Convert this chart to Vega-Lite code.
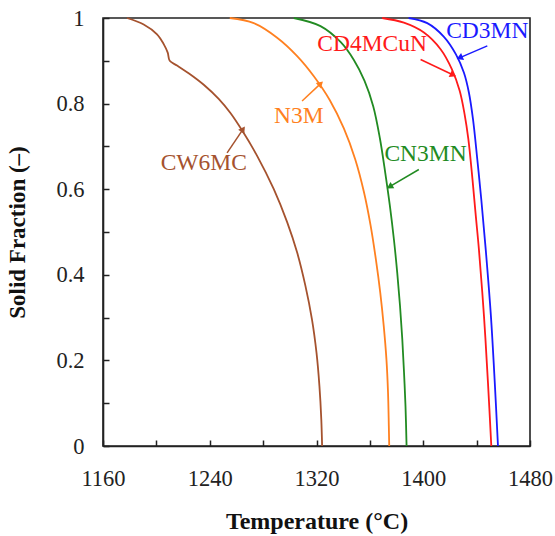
{
  "$schema": "https://vega.github.io/schema/vega-lite/v6.json",
  "width": 427,
  "height": 428,
  "autosize": {"type": "none"},
  "padding": {"left": 103, "top": 18, "right": 25, "bottom": 90},
  "background": "white",
  "config": {
    "view": {"stroke": "#222", "strokeWidth": 1.6},
    "font": "Liberation Serif, Times New Roman, DejaVu Serif, serif"
  },
  "datasets": {
    "curves": [
      {"s": "CW6MC", "T": 1178, "f": 1},
      {"s": "CW6MC", "T": 1190.5, "f": 0.985},
      {"s": "CW6MC", "T": 1200.5, "f": 0.962},
      {"s": "CW6MC", "T": 1205.5, "f": 0.939},
      {"s": "CW6MC", "T": 1208.5, "f": 0.919},
      {"s": "CW6MC", "T": 1210, "f": 0.9},
      {"s": "CW6MC", "T": 1215.5, "f": 0.889},
      {"s": "CW6MC", "T": 1225.5, "f": 0.868},
      {"s": "CW6MC", "T": 1235.5, "f": 0.844},
      {"s": "CW6MC", "T": 1246.7, "f": 0.811},
      {"s": "CW6MC", "T": 1255.5, "f": 0.778},
      {"s": "CW6MC", "T": 1264.3, "f": 0.737},
      {"s": "CW6MC", "T": 1275.5, "f": 0.678},
      {"s": "CW6MC", "T": 1288, "f": 0.6},
      {"s": "CW6MC", "T": 1298, "f": 0.523},
      {"s": "CW6MC", "T": 1305.5, "f": 0.452},
      {"s": "CW6MC", "T": 1311.7, "f": 0.374},
      {"s": "CW6MC", "T": 1316.6, "f": 0.296},
      {"s": "CW6MC", "T": 1320, "f": 0.218},
      {"s": "CW6MC", "T": 1322.2, "f": 0.14},
      {"s": "CW6MC", "T": 1323.6, "f": 0.062},
      {"s": "CW6MC", "T": 1324.2, "f": 0},
      {"s": "N3M", "T": 1255, "f": 1},
      {"s": "N3M", "T": 1273, "f": 0.988},
      {"s": "N3M", "T": 1290.5, "f": 0.954},
      {"s": "N3M", "T": 1305.5, "f": 0.911},
      {"s": "N3M", "T": 1318, "f": 0.864},
      {"s": "N3M", "T": 1330, "f": 0.808},
      {"s": "N3M", "T": 1340.5, "f": 0.742},
      {"s": "N3M", "T": 1349, "f": 0.67},
      {"s": "N3M", "T": 1355.5, "f": 0.594},
      {"s": "N3M", "T": 1360.5, "f": 0.516},
      {"s": "N3M", "T": 1364.5, "f": 0.436},
      {"s": "N3M", "T": 1367.8, "f": 0.358},
      {"s": "N3M", "T": 1370.4, "f": 0.28},
      {"s": "N3M", "T": 1372.4, "f": 0.203},
      {"s": "N3M", "T": 1373.6, "f": 0.125},
      {"s": "N3M", "T": 1374.2, "f": 0.047},
      {"s": "N3M", "T": 1374.5, "f": 0},
      {"s": "CN3MN", "T": 1303, "f": 1},
      {"s": "CN3MN", "T": 1323, "f": 0.981},
      {"s": "CN3MN", "T": 1338, "f": 0.944},
      {"s": "CN3MN", "T": 1348, "f": 0.902},
      {"s": "CN3MN", "T": 1356, "f": 0.853},
      {"s": "CN3MN", "T": 1362.5, "f": 0.794},
      {"s": "CN3MN", "T": 1367.5, "f": 0.719},
      {"s": "CN3MN", "T": 1371.5, "f": 0.639},
      {"s": "CN3MN", "T": 1375, "f": 0.561},
      {"s": "CN3MN", "T": 1378, "f": 0.483},
      {"s": "CN3MN", "T": 1380.5, "f": 0.405},
      {"s": "CN3MN", "T": 1382.6, "f": 0.327},
      {"s": "CN3MN", "T": 1384.3, "f": 0.249},
      {"s": "CN3MN", "T": 1385.6, "f": 0.171},
      {"s": "CN3MN", "T": 1386.7, "f": 0.093},
      {"s": "CN3MN", "T": 1387.5, "f": 0},
      {"s": "CD4MCuN", "T": 1369.2, "f": 1},
      {"s": "CD4MCuN", "T": 1385.5, "f": 0.989},
      {"s": "CD4MCuN", "T": 1400.5, "f": 0.966},
      {"s": "CD4MCuN", "T": 1413, "f": 0.927},
      {"s": "CD4MCuN", "T": 1421.5, "f": 0.88},
      {"s": "CD4MCuN", "T": 1427.3, "f": 0.83},
      {"s": "CD4MCuN", "T": 1431, "f": 0.775},
      {"s": "CD4MCuN", "T": 1433.8, "f": 0.717},
      {"s": "CD4MCuN", "T": 1436.9, "f": 0.623},
      {"s": "CD4MCuN", "T": 1439.4, "f": 0.537},
      {"s": "CD4MCuN", "T": 1441.7, "f": 0.46},
      {"s": "CD4MCuN", "T": 1445.5, "f": 0.304},
      {"s": "CD4MCuN", "T": 1448.5, "f": 0.148},
      {"s": "CD4MCuN", "T": 1451, "f": 0},
      {"s": "CD3MN", "T": 1389, "f": 1},
      {"s": "CD3MN", "T": 1403, "f": 0.988},
      {"s": "CD3MN", "T": 1415.5, "f": 0.956},
      {"s": "CD3MN", "T": 1424.5, "f": 0.915},
      {"s": "CD3MN", "T": 1430.5, "f": 0.872},
      {"s": "CD3MN", "T": 1434.2, "f": 0.826},
      {"s": "CD3MN", "T": 1437.3, "f": 0.763},
      {"s": "CD3MN", "T": 1440.5, "f": 0.67},
      {"s": "CD3MN", "T": 1443.5, "f": 0.576},
      {"s": "CD3MN", "T": 1446.8, "f": 0.46},
      {"s": "CD3MN", "T": 1450.7, "f": 0.304},
      {"s": "CD3MN", "T": 1453.6, "f": 0.148},
      {"s": "CD3MN", "T": 1456, "f": 0}
    ],
    "labels": [
      {"s": "CW6MC", "T": 1235.5, "f": 0.662},
      {"s": "N3M", "T": 1306.7, "f": 0.771},
      {"s": "CN3MN", "T": 1401.7, "f": 0.682},
      {"s": "CD4MCuN", "T": 1361.7, "f": 0.939},
      {"s": "CD3MN", "T": 1448, "f": 0.97}
    ],
    "arrows": [
      {"s": "CW6MC", "T": 1253, "f": 0.685, "T2": 1264.5, "f2": 0.738},
      {"s": "N3M", "T": 1309.2, "f": 0.806, "T2": 1322.5, "f2": 0.845},
      {"s": "CN3MN", "T": 1396.7, "f": 0.646, "T2": 1375.5, "f2": 0.607},
      {"s": "CD4MCuN", "T": 1398, "f": 0.903, "T2": 1421.7, "f2": 0.868},
      {"s": "CD3MN", "T": 1448, "f": 0.935, "T2": 1428, "f2": 0.908}
    ]
  },
  "layer": [
    {
      "data": {"name": "curves"},
      "mark": {"type": "line", "interpolate": "catmull-rom", "strokeWidth": 1.8},
      "encoding": {
        "x": {
          "field": "T", "type": "quantitative",
          "scale": {"domain": [1160, 1480], "nice": false, "zero": false},
          "axis": {
            "title": "Temperature (°C)",
            "values": [1160, 1180, 1200, 1220, 1240, 1260, 1280, 1300, 1320, 1340, 1360, 1380, 1400, 1420, 1440, 1460, 1480],
            "format": "d",
            "labelExpr": "(datum.value - 1160) % 80 == 0 ? datum.label : ''",
            "grid": false,
            "tickSize": -6,
            "tickColor": "#222",
            "tickWidth": 1.5,
            "domainColor": "#222",
            "domainWidth": 1.6,
            "labelFont": "Liberation Serif, Times New Roman, DejaVu Serif, serif",
            "labelFontSize": 22.5,
            "labelColor": "#222",
            "labelPadding": 27,
            "labelFlush": false,
            "labelOverlap": false,
            "titleFont": "Liberation Serif, Times New Roman, DejaVu Serif, serif",
            "titleFontSize": 24,
            "titleFontWeight": "bold",
            "titleColor": "#111",
            "titlePadding": 20
          }
        },
        "y": {
          "field": "f", "type": "quantitative",
          "scale": {"domain": [0, 1], "nice": false},
          "axis": {
            "title": "Solid Fraction (–)",
            "values": [0, 0.1, 0.2, 0.3, 0.4, 0.5, 0.6, 0.7, 0.8, 0.9, 1],
            "format": "~g",
            "labelExpr": "round(datum.value * 10) % 2 == 0 ? datum.label : ''",
            "grid": false,
            "tickSize": -6,
            "tickColor": "#222",
            "tickWidth": 1.5,
            "domainColor": "#222",
            "domainWidth": 1.6,
            "labelFont": "Liberation Serif, Times New Roman, DejaVu Serif, serif",
            "labelFontSize": 22.5,
            "labelColor": "#222",
            "labelPadding": 25,
            "labelFlush": false,
            "labelOverlap": false,
            "titleFont": "Liberation Serif, Times New Roman, DejaVu Serif, serif",
            "titleFontSize": 23,
            "titleFontWeight": "bold",
            "titleColor": "#111",
            "titlePadding": 26
          }
        },
        "color": {
          "field": "s", "type": "nominal", "legend": null,
          "scale": {
            "domain": ["CW6MC", "N3M", "CN3MN", "CD4MCuN", "CD3MN"],
            "range": ["#A5522E", "#FF8020", "#228B22", "#FF1A1A", "#1A1AFF"]
          }
        },
        "detail": {"field": "s"}
      }
    },
    {
      "data": {"name": "arrows"},
      "mark": {"type": "rule", "strokeWidth": 1.5},
      "encoding": {
        "x": {"field": "T", "type": "quantitative"},
        "y": {"field": "f", "type": "quantitative"},
        "x2": {"field": "T2"},
        "y2": {"field": "f2"},
        "color": {"field": "s", "type": "nominal", "legend": null}
      }
    },
    {
      "data": {"name": "arrows"},
      "transform": [
        {"calculate": "atan2((datum.T2 - datum.T) * 1.334, (datum.f2 - datum.f) * 428) * 180 / PI", "as": "ang"}
      ],
      "mark": {"type": "point", "shape": "triangle", "filled": true, "size": 55, "opacity": 1},
      "encoding": {
        "x": {"field": "T2", "type": "quantitative"},
        "y": {"field": "f2", "type": "quantitative"},
        "angle": {"field": "ang", "type": "quantitative", "scale": null},
        "color": {"field": "s", "type": "nominal", "legend": null}
      }
    },
    {
      "data": {"name": "labels"},
      "mark": {"type": "text", "font": "Liberation Serif, Times New Roman, DejaVu Serif, serif", "fontSize": 23.5, "align": "center", "baseline": "middle"},
      "encoding": {
        "x": {"field": "T", "type": "quantitative"},
        "y": {"field": "f", "type": "quantitative"},
        "text": {"field": "s"},
        "color": {"field": "s", "type": "nominal", "legend": null}
      }
    }
  ]
}
